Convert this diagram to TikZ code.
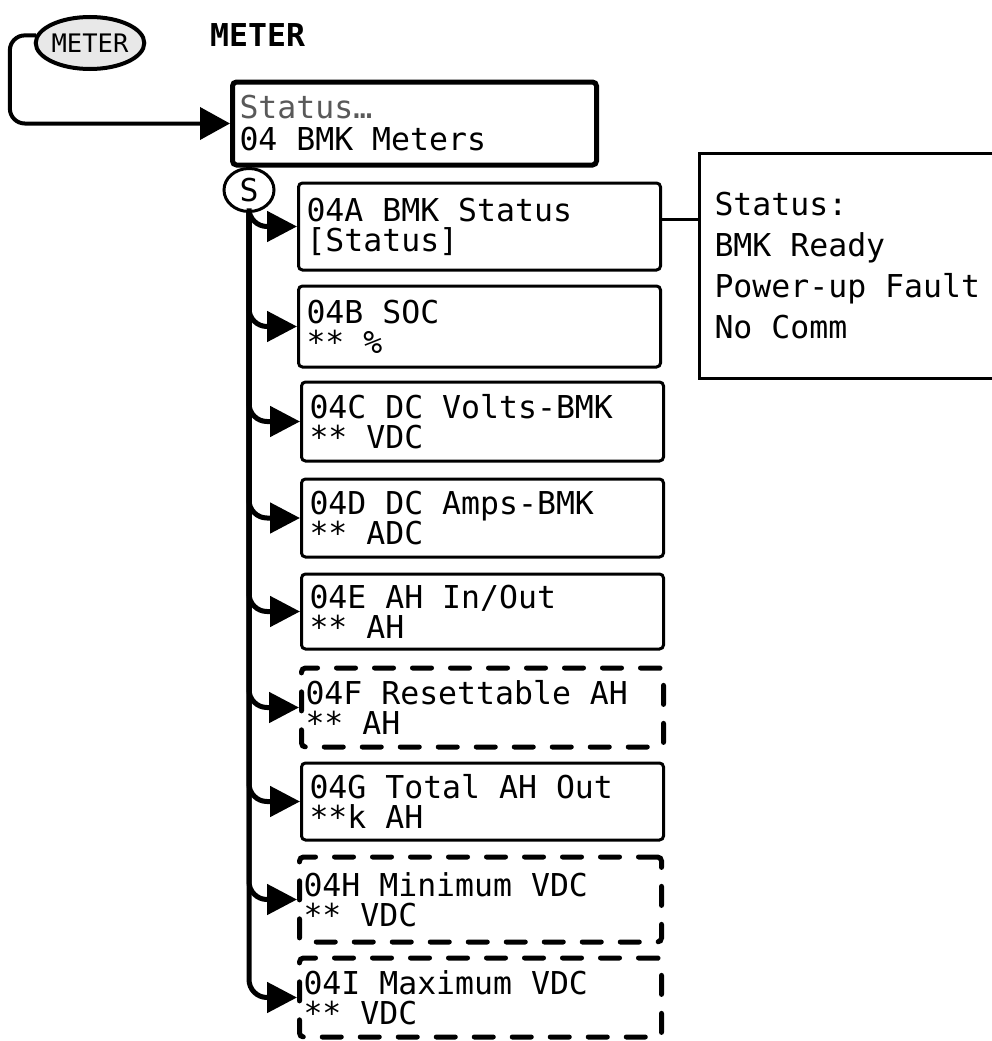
\documentclass[tikz,border=0pt]{standalone}
\usepackage{fontspec}
\setmonofont{DejaVu Sans Mono}
\usetikzlibrary{arrows.meta,shapes.geometric}

\lineskiplimit=-100pt
\newcommand{\menufont}{\ttfamily\fontsize{31.5}{30}\selectfont}
\newcommand{\fullspaces}{\spaceskip=0.602em\xspaceskip=0.602em\relax}

\begin{document}
\begin{tikzpicture}[x=1pt, y=-1pt,
		execute at begin node=\fullspaces,
		menu/.style={draw, line width=3pt, rounded corners=4pt, anchor=west, text width=346pt, inner xsep=8pt, inner ysep=0pt, align=left, font=\menufont},
		optmenu/.style={menu, line width=5pt, line cap=round, dash pattern=on 19pt off 19pt, inner xsep=4pt, text width=354pt},
		branch/.style={line width=5pt, rounded corners=18pt, -{Triangle[length=30pt, width=30pt]}}]
		\useasboundingbox (0,0) rectangle (992,1041);

		% Draw key and title
		\node[draw, ellipse, line width=4pt, fill=black!9, minimum width=105pt, minimum height=52pt, inner sep=0pt, font=\ttfamily\fontsize{25.5}{30}\selectfont] (meter) at (90,43) {METER};
		\node[anchor=west, inner sep=0pt, font=\ttfamily\bfseries\fontsize{31.5}{30}\selectfont] (title) at (210,35) {METER};

		% Draw top menu
		\node[menu, line width=5pt, text width=350pt, inner xsep=7pt, minimum height=83pt, font=\ttfamily\fontsize{31.5}{32}\selectfont] (status) at (230,123.5) {\textcolor{black!65}{Status…}\\04 BMK Meters};
		\node[draw, ellipse, line width=3pt, minimum width=50pt, minimum height=43pt, inner sep=0pt, font=\menufont] (S) at (249,190) {S};

		% Draw sub menus
		\node[menu, minimum height=87pt] (a) at (297,226.5) {04A BMK Status\\{[Status]}};
		\node[menu, minimum height=81pt] (b) at (297,326.5) {04B SOC\\{**} \%};
		\node[menu, minimum height=79pt] (c) at (300,421.5) {04C DC Volts-BMK\\{**} VDC};
		\node[menu, minimum height=78pt] (d) at (300,518) {04D DC Amps-BMK\\{**} ADC};
		\node[menu, minimum height=75pt] (e) at (300,611.5) {04E AH In/Out\\{**} AH};
		\node[optmenu, minimum height=79pt] (f) at (299,707.5) {04F Resettable AH\\{**} AH};
		\node[menu, minimum height=77pt] (g) at (300,801.5) {04G Total AH Out\\{**}k AH};
		\node[optmenu, minimum height=85pt] (h) at (297,899.5) {04H Minimum VDC\\{**} VDC};
		\node[optmenu, minimum height=79pt] (i) at (297,997.5) {04I Maximum VDC\\{**} VDC};

		% Draw status list
		\node[draw, line width=3pt, anchor=west, minimum height=225pt, text width=290pt, inner xsep=15pt, align=left, font=\ttfamily\fontsize{31.5}{40.7}\selectfont] (info) at (698,265.5) {Status:\\BMK Ready\\Power-up Fault\\No Comm};

		% Draw connectors
		\draw[line width=4pt, rounded corners=15pt, -{Triangle[length=30pt, width=32pt]}] (meter.172) -- ++(-26,0) |- (status.west);
		\foreach \n in {a,...,i}
			\draw[branch] (S.south) |- (\n.west);
		\draw[line width=3pt] ([yshift=7pt]a.east) -- ([yshift=7pt]a.east -| info.west);
	\end{tikzpicture}
\end{document}
